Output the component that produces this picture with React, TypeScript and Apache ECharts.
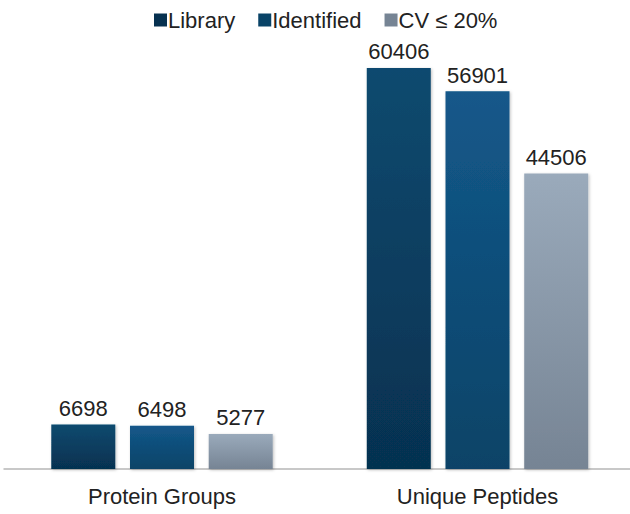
import React, { useEffect, useRef } from "react";
import * as echarts from "echarts";

const categories = ["Protein Groups", "Unique Peptides"];
const seriesNames = ["Library", "Identified", "CV ≤ 20%"];
const libraryValues = [6698, 60406];
const identifiedValues = [6498, 56901];
const cvValues = [5277, 44506];

const grad = (top: string, bottom: string) =>
  new echarts.graphic.LinearGradient(0, 0, 0, 1, [
    { offset: 0, color: top },
    { offset: 1, color: bottom },
  ]);

export default function App() {
  const ref = useRef<HTMLDivElement>(null);
  useEffect(() => {
    if (!ref.current) return;
    document.documentElement.style.overflow = "hidden";
    document.body.style.overflow = "hidden";
    const chart = echarts.init(ref.current, undefined, { renderer: "svg" });
    const colors = [
      ["#0b4a6f", "#063150"],
      ["#14588a", "#094367"],
      ["#9aaabb", "#768494"],
    ];
    const values = [libraryValues, identifiedValues, cvValues];
    chart.setOption({
      animation: false,
      textStyle: { fontFamily: "Liberation Sans, Arial, sans-serif" },
      legend: {
        top: 4,
        left: 149,
        itemWidth: 13,
        itemHeight: 13,
        itemGap: 23,
        icon: "rect",
        textStyle: { fontSize: 22, color: "#222", padding: [0, 0, 0, -4] },
        data: seriesNames.map((n, i) => ({
          name: n,
          itemStyle: { color: colors[i][1] },
        })),
      },
      grid: { left: 4.25, right: 0.75, top: 37.5, bottom: 45 },
      xAxis: {
        type: "category",
        data: categories,
        axisLine: { lineStyle: { color: "#c8c8c8", width: 2 } },
        axisTick: { show: false },
        axisLabel: { fontSize: 22, color: "#222", margin: 16 },
      },
      yAxis: {
        type: "value",
        min: 0,
        max: 65000,
        show: false,
        splitLine: { show: false },
      },
      series: seriesNames.map((n, i) => ({
        name: n,
        type: "bar",
        data: values[i],
        barWidth: 64,
        barGap: "23%",
        itemStyle: {
          color: grad(colors[i][0], colors[i][1]),
          shadowColor: "rgba(0,0,0,0.25)",
          shadowBlur: 3,
          shadowOffsetX: 1,
          shadowOffsetY: 1,
        },
        label: {
          show: true,
          position: "top",
          fontSize: 22,
          color: "#222",
          distance: 5,
        },
      })),
    });
    return () => chart.dispose();
  }, []);
  return <div ref={ref} style={{ width: 636, height: 514, position: "absolute", left: 0, top: 0 }} />;
}
